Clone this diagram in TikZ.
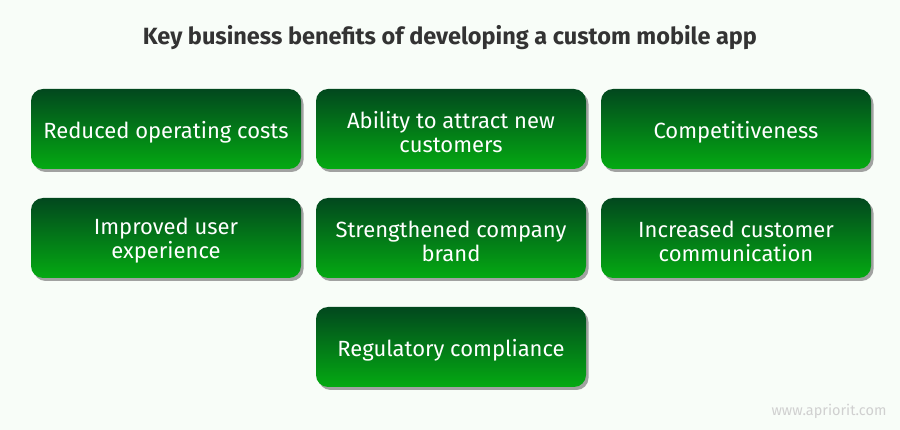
\documentclass[tikz,border=0pt]{standalone}
\usepackage{fontspec}
\setmainfont{Fira Sans}
\usetikzlibrary{shadows}
\definecolor{bgc}{RGB}{248,253,248}
\definecolor{gtop}{RGB}{2,72,30}
\definecolor{gbot}{RGB}{4,170,18}
\definecolor{titlec}{RGB}{51,51,51}
\definecolor{wm}{RGB}{208,208,208}
\begin{document}
\begin{tikzpicture}[x=1pt,y=-1pt,
  benefit/.style={rectangle, rounded corners=12pt, minimum width=270pt, minimum height=80pt,
    top color=gtop, bottom color=gbot, draw=none, text=white, align=center,
    font=\fontsize{22}{24}\selectfont,
    drop shadow={shadow xshift=2.5pt, shadow yshift=-3pt, fill=black!45, opacity=0.8}},
  btext/.style={text=white, align=center, font=\fontsize{22}{24}\selectfont},
  ttl/.style={font=\fontsize{23.5}{26}\selectfont\bfseries, text=titlec},
  wmark/.style={font=\fontsize{14.5}{16}\selectfont, text=wm}]
\fill[bgc] (0,0) rectangle (900,430);
\useasboundingbox (0,0) rectangle (900,430);
\node[ttl] (title) at (450,38) {Key business benefits of developing a custom mobile app};
\foreach \n/\x/\y/\t in {b1/166/129/{Reduced operating costs},
    b2/451/129/{Ability to attract new\\customers},
    b3/736/129/{Competitiveness},
    b4/166/238/{Improved user\\experience},
    b5/451/238/{Strengthened company\\brand},
    b6/736/238/{Increased customer\\communication},
    b7/451/347/{Regulatory compliance}}{
  \node[benefit] (\n) at (\x,\y) {};
  \node[btext] (\n t) at ([yshift=-3pt]\n.center) {\t};
}
\node[wmark, anchor=east] (wm) at (890,411) {www.apriorit.com};
\end{tikzpicture}
\end{document}
